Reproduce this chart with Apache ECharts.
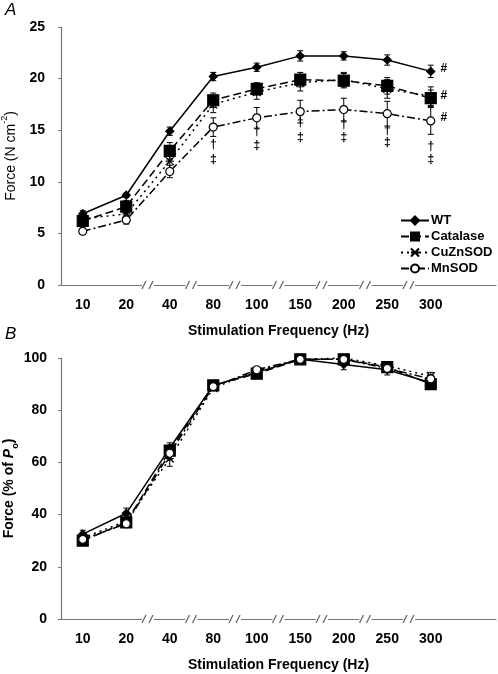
<!DOCTYPE html>
<html>
<head>
<meta charset="utf-8">
<script src="https://cdn.jsdelivr.net/npm/echarts@6/dist/echarts.min.js"></script>
<style>html,body{margin:0;padding:0;background:#fff}#c{width:498px;height:674px}</style>
</head>
<body>
<div id="c"></div>
<script>
// ---- data ----
const freqs = ['10','20','40','80','100','150','200','250','300'];
const seriesNames = ['WT','Catalase','CuZnSOD','MnSOD'];
// Panel A: Force (N cm^-2)
const forceWT  = [6.9, 8.7, 14.9, 20.2, 21.1, 22.2, 22.2, 21.8, 20.7];
const forceCat = [6.2, 7.6, 13.0, 17.9, 19.0, 19.9, 19.8, 19.3, 18.1];
const forceCu  = [6.4, 6.9, 12.0, 17.5, 18.7, 19.6, 19.9, 19.0, 18.3];
const forceMn  = [5.2, 6.3, 11.0, 15.3, 16.2, 16.8, 17.0, 16.6, 15.9];
const errWT  = [0.3, 0.2, 0.4, 0.4, 0.4, 0.5, 0.4, 0.5, 0.6];
const errCat = [0.5, 0.6, 0.8, 0.7, 0.6, 0.7, 0.7, 0.8, 0.8];
const errCu  = [0.4, 0.5, 0.8, 0.8, 0.7, 0.8, 0.7, 0.9, 0.9];
const errMn  = [0.3, 0.4, 0.6, 0.9, 1.0, 1.1, 1.1, 1.2, 1.3];
// Panel B: Force (% of Po)
const pctWT  = [32.5, 40.5, 65.5, 89.5, 94.5, 99.5, 97.5, 95.5, 90.5];
const pctCat = [30.0, 37.0, 64.5, 89.5, 94.0, 99.5, 99.5, 96.5, 90.0];
const pctCu  = [31.0, 37.5, 61.5, 88.5, 95.0, 99.5, 100.0, 97.0, 93.0];
const pctMn  = [30.5, 36.5, 63.5, 89.0, 95.5, 99.5, 99.5, 96.0, 92.0];
const pErrWT  = [1.5, 2.0, 2.0, 1.0, 1.0, 1.0, 2.0, 2.0, 1.5];
const pErrCat = [1.5, 1.5, 2.0, 1.0, 1.0, 1.0, 1.0, 1.5, 2.0];
const pErrCu  = [1.5, 1.5, 3.0, 1.0, 1.0, 1.0, 1.0, 1.0, 1.5];
const pErrMn  = [1.5, 1.5, 2.5, 1.0, 1.0, 1.0, 1.0, 1.5, 1.5];
// significance markers (panel A)
const daggerIdx = [3, 4, 5, 6, 7, 8];
const daggerVal = [13.6, 14.9, 15.7, 15.5, 15.0, 13.4];
const ddaggerVal = [12.1, 13.5, 14.3, 14.3, 13.8, 12.1];
const hashVal = [forceWT[8], forceCat[8], forceMn[8]];
const breakAfter = [1, 2, 3, 4, 5, 6, 7];

// ---- styles ----
const FONT = 'Liberation Sans, Arial, sans-serif';
const styles = {
  WT:       {symbol:'diamond', size:8, dash:'solid', fill:'#000'},
  Catalase: {symbol:'rect', size:11, dash:[8,4], fill:'#000'},
  CuZnSOD:  {symbol:'path://M0,0L10,10M10,0L0,10M0,5L10,5', size:8, dash:[2,4], fill:'none'},
  MnSOD:    {symbol:'circle', size:8, dash:[8,3,2,3], fill:'#fff'}
};

function lineSeries(name, data, idx){
  const s = styles[name];
  return {
    type:'line', name:name, data:data, xAxisIndex:idx, yAxisIndex:idx,
    symbol:s.symbol, symbolSize:s.size, showSymbol:true, z:5,
    lineStyle:{color:'#000', width:1.5, type:s.dash},
    itemStyle:{color:s.fill, borderColor:'#000', borderWidth:1.2},
    emphasis:{disabled:true}, animation:false
  };
}
function errRender(params, api){
  const x = api.value(0);
  const lo = api.coord([x, api.value(1)]);
  const hi = api.coord([x, api.value(2)]);
  const w = 3, st = {stroke:'#000', lineWidth:1};
  return {type:'group', children:[
    {type:'line', shape:{x1:lo[0],y1:lo[1],x2:hi[0],y2:hi[1]}, style:st},
    {type:'line', shape:{x1:lo[0]-w,y1:lo[1],x2:lo[0]+w,y2:lo[1]}, style:st},
    {type:'line', shape:{x1:hi[0]-w,y1:hi[1],x2:hi[0]+w,y2:hi[1]}, style:st}
  ]};
}
function errSeries(vals, errs, idx){
  return {type:'custom', xAxisIndex:idx, yAxisIndex:idx, renderItem:errRender, clip:false, z:3,
    silent:true, animation:false,
    data: vals.map((v,i)=>[i, v-errs[i], v+errs[i]])};
}
function textSeries(txt, idxs, vals, dx, dy){
  return {type:'custom', xAxisIndex:0, yAxisIndex:0, clip:false, z:6, silent:true, animation:false,
    renderItem:function(params, api){
      const p = api.coord([api.value(0), api.value(1)]);
      return {type:'text', x:p[0]+dx, y:p[1]+dy,
        style:{text:txt, fill:'#000', font:'bold 12px '+FONT, align:'center', verticalAlign:'middle'}};
    },
    data: idxs.map((k,i)=>[k, vals[i]])};
}
function breakSeries(idx){
  return {type:'custom', xAxisIndex:idx, yAxisIndex:idx, clip:false, z:10, silent:true, animation:false,
    renderItem:function(params, api){
      const k = api.value(0);
      const a = api.coord([k, 0]), b = api.coord([k+1, 0]);
      const x = (a[0]+b[0])/2, y = a[1];
      const st = {stroke:'#666', lineWidth:1.2};
      return {type:'group', children:[
        {type:'rect', shape:{x:x-6, y:y-3, width:12, height:6}, style:{fill:'#fff'}},
        {type:'line', shape:{x1:x-6,y1:y+4,x2:x-2,y2:y-4}, style:st},
        {type:'line', shape:{x1:x+1,y1:y+4,x2:x+5,y2:y-4}, style:st}
      ]};
    },
    data: breakAfter.map(k=>[k, 0])};
}

const axisLabelStyle = {color:'#000', fontFamily:FONT, fontWeight:'bold', fontSize:14};
function xAxis(idx){
  return {type:'category', gridIndex:idx, data:freqs.concat(['']), boundaryGap:true,
    axisLine:{lineStyle:{color:'#777', width:1.2}}, axisTick:{show:false},
    axisLabel:Object.assign({margin:13}, axisLabelStyle),
    name:'Stimulation Frequency (Hz)', nameLocation:'middle', nameGap:39, nameMoveOverlap:false,
    nameTextStyle:{color:'#000', fontFamily:FONT, fontWeight:'bold', fontSize:14}, splitLine:{show:false}};
}

const option = {
  animation:false,
  backgroundColor:'#fff',
  graphic:[
    {type:'text', left:5, top:2, style:{text:'A', font:'italic 17px '+FONT, fill:'#000'}},
    {type:'text', left:5, top:326, style:{text:'B', font:'italic 17px '+FONT, fill:'#000'}}
  ],
  legend:{
    data:seriesNames, orient:'vertical', left:400, top:214, itemWidth:28, itemHeight:10, itemGap:3,
    padding:0, selectedMode:false,
    textStyle:{color:'#000', fontFamily:FONT, fontWeight:'bold', fontSize:13, padding:[0,0,0,-3]}
  },
  grid:[
    {left:61, right:2, top:27, height:258, containLabel:false, outerBoundsMode:'none'},
    {left:61, right:2, top:358, height:261, containLabel:false, outerBoundsMode:'none'}
  ],
  xAxis:[xAxis(0), xAxis(1)],
  yAxis:[
    {type:'value', gridIndex:0, min:0, max:25, interval:5,
      axisLine:{show:true, lineStyle:{color:'#777', width:1.2}},
      axisTick:{show:true, length:3, lineStyle:{color:'#777'}},
      axisLabel:Object.assign({margin:16}, axisLabelStyle), splitLine:{show:false},
      name:'{a|Force (N cm}{s|-2}{a|)}', nameLocation:'middle', nameGap:43, nameMoveOverlap:false,
      nameTextStyle:{rich:{
        a:{color:'#000', fontFamily:FONT, fontSize:14, lineHeight:18, verticalAlign:'bottom'},
        s:{color:'#000', fontFamily:FONT, fontSize:9, lineHeight:18, verticalAlign:'top'}}}},
    {type:'value', gridIndex:1, min:0, max:100, interval:20,
      axisLine:{show:true, lineStyle:{color:'#777', width:1.2}},
      axisTick:{show:true, length:3, lineStyle:{color:'#777'}},
      axisLabel:Object.assign({margin:14}, axisLabelStyle), splitLine:{show:false},
      name:'{a|Force (% of }{i|P}{s|o}{a|)}', nameLocation:'middle', nameGap:41, nameMoveOverlap:false,
      nameTextStyle:{rich:{
        a:{color:'#000', fontFamily:FONT, fontWeight:'bold', fontSize:14, lineHeight:18, verticalAlign:'top'},
        i:{color:'#000', fontFamily:FONT, fontWeight:'bold', fontStyle:'italic', fontSize:14, lineHeight:18, verticalAlign:'top'},
        s:{color:'#000', fontFamily:FONT, fontWeight:'bold', fontSize:9, lineHeight:18, verticalAlign:'bottom'}}}}
  ],
  series:[
    breakSeries(0), breakSeries(1),
    errSeries(forceWT, errWT, 0), errSeries(forceCat, errCat, 0),
    errSeries(forceCu, errCu, 0), errSeries(forceMn, errMn, 0),
    lineSeries('WT', forceWT, 0), lineSeries('Catalase', forceCat, 0),
    lineSeries('CuZnSOD', forceCu, 0), lineSeries('MnSOD', forceMn, 0),
    textSeries('†', daggerIdx, daggerVal, 0, 0),
    textSeries('‡', daggerIdx, ddaggerVal, 0, 0),
    textSeries('#', [8, 8, 8], hashVal, 13, -3),
    errSeries(pctWT, pErrWT, 1), errSeries(pctCat, pErrCat, 1),
    errSeries(pctCu, pErrCu, 1), errSeries(pctMn, pErrMn, 1),
    lineSeries('WT', pctWT, 1), lineSeries('Catalase', pctCat, 1),
    lineSeries('CuZnSOD', pctCu, 1), lineSeries('MnSOD', pctMn, 1)
  ]
};
const chart = echarts.init(document.getElementById('c'), null, {renderer:'canvas'});
chart.setOption(option);
</script>
</body>
</html>
